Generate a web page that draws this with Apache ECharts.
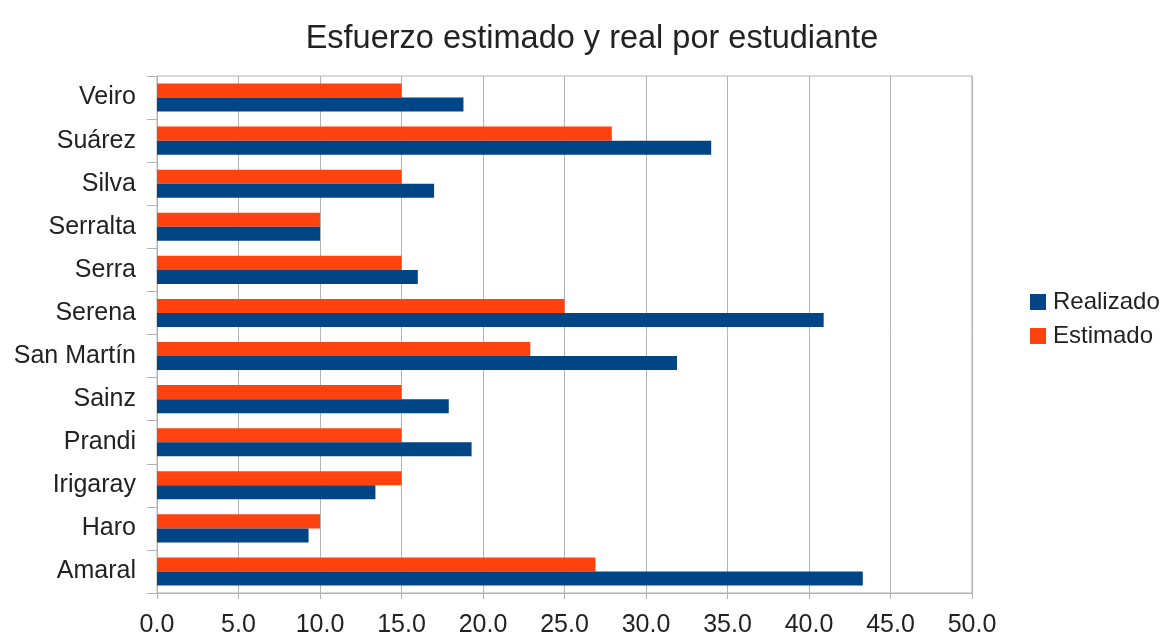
<!DOCTYPE html>
<html>
<head>
<meta charset="utf-8">
<script src="https://cdn.jsdelivr.net/npm/echarts@6/dist/echarts.min.js"></script>
<style>html,body{margin:0;padding:0;background:#fff;}#c{width:1165px;height:638px;}</style>
</head>
<body>
<div id="c"></div>
<script>
const categories = ['Amaral', 'Haro', 'Irigaray', 'Prandi', 'Sainz', 'San Martín', 'Serena', 'Serra', 'Serralta', 'Silva', 'Suárez', 'Veiro'];
const realizado = [43.3, 9.3, 13.4, 19.3, 17.9, 31.9, 40.9, 16, 10, 17, 34, 18.8];
const estimado = [26.9, 10, 15, 15, 15, 22.9, 25, 15, 10, 15, 27.9, 15];
const seriesNames = ['Realizado', 'Estimado'];

const chart = echarts.init(document.getElementById('c'), null, {renderer: 'canvas'});
const font = 'Liberation Sans';
chart.setOption({
  animation: false,
  backgroundColor: '#ffffff',
  title: {
    text: 'Esfuerzo estimado y real por estudiante',
    left: 587, top: 18, textAlign: 'center',
    textStyle: {fontFamily: font, fontSize: 32.5, fontWeight: 'normal', color: '#222'}
  },
  legend: {
    data: seriesNames,
    orient: 'vertical',
    left: 1025, top: 285,
    itemWidth: 16, itemHeight: 16, itemGap: 10,
    icon: 'rect',
    textStyle: {fontFamily: font, fontSize: 24, color: '#222', padding: [0,0,0,2]}
  },
  grid: {left: 157, right: 193, top: 76, bottom: 42, show: true, borderColor: '#b3b3b3', borderWidth: 1},
  xAxis: {
    type: 'value', min: 0, max: 50, interval: 5,
    axisLine: {show: true, lineStyle: {color: '#b3b3b3'}},
    axisTick: {show: true, length: 6, lineStyle: {color: '#b3b3b3'}},
    splitLine: {show: true, lineStyle: {color: '#b3b3b3'}},
    axisLabel: {fontFamily: font, fontSize: 25, color: '#222', margin: 20, formatter: v => v.toFixed(1)}
  },
  yAxis: {
    type: 'category', data: categories,
    axisLine: {show: true, lineStyle: {color: '#b3b3b3'}},
    axisTick: {show: true, length: 10, lineStyle: {color: '#b3b3b3'}},
    splitLine: {show: false},
    axisLabel: {fontFamily: font, fontSize: 25, color: '#222', margin: 21}
  },
  series: [
    {name: 'Estimado', type: 'bar', data: estimado, itemStyle: {color: '#ff420e'}, barGap: '0%', barCategoryGap: '35%'},
    {name: 'Realizado', type: 'bar', data: realizado, itemStyle: {color: '#004586'}, barGap: '0%', barCategoryGap: '35%'}
  ]
});
</script>
</body>
</html>
